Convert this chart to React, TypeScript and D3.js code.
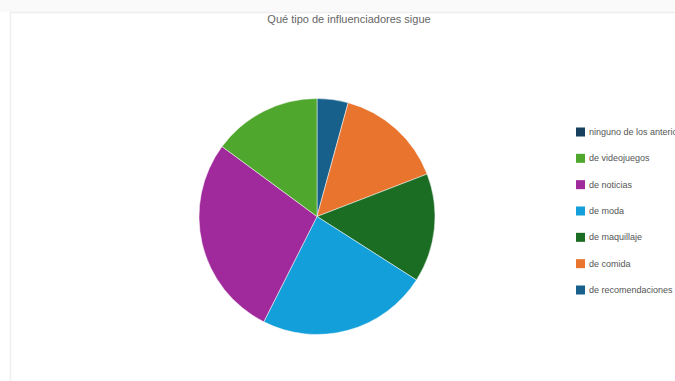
import React from "react";
import * as d3 from "d3";

const categories = [
  "ninguno de los anteriores",
  "de videojuegos",
  "de noticias",
  "de moda",
  "de maquillaje",
  "de comida",
  "de recomendaciones",
];
const values = [0, 7, 13, 11, 7, 7, 2];
const colors = ["#17405f", "#4fa72e", "#a0299b", "#139fd9", "#1b6d24", "#e8742e", "#16608b"];
const title = "Qué tipo de influenciadores sigue";

export default function App() {
  const W = 675;
  const H = 381;
  const cx = 317;
  const cy = 216.5;
  const r = 118;

  // drawn clockwise from top in reverse legend order
  const order = d3.range(categories.length).reverse();
  const pie = d3
    .pie<number>()
    .sort(null)
    .value((i) => values[i]);
  const arcs = pie(order);
  const arc = d3.arc<d3.PieArcDatum<number>>().innerRadius(0).outerRadius(r);

  const legendY = d3
    .scalePoint<string>()
    .domain(categories)
    .range([132, 290]);

  return (
    <svg
      width={W}
      height={H}
      style={{ position: "absolute", left: 0, top: 0, background: "#fff" }}
      fontFamily="'Liberation Sans', Arial, sans-serif"
    >
      <rect x={0} y={0} width={W} height={12} fill="#fafafa" />
      <rect x={10.5} y={12.5} width={W} height={H} fill="#fff" stroke="#eeeeee" strokeWidth={1.5} />
      <text x={349} y={23} textAnchor="middle" fontSize={11} fill="#666">
        {title}
      </text>
      <g transform={`translate(${cx},${cy})`}>
        {arcs.map((a) =>
          a.value > 0 ? (
            <path key={a.data} d={arc(a) || ""} fill={colors[a.data]} stroke="#fff" strokeWidth={0.5} />
          ) : null
        )}
      </g>
      {categories.map((c, i) => (
        <g key={c} transform={`translate(576,${legendY(c)})`}>
          <rect x={0} y={-4.5} width={9} height={9} fill={colors[i]} />
          <text x={13} y={3} fontSize={9} fill="#555">
            {c}
          </text>
        </g>
      ))}
    </svg>
  );
}
